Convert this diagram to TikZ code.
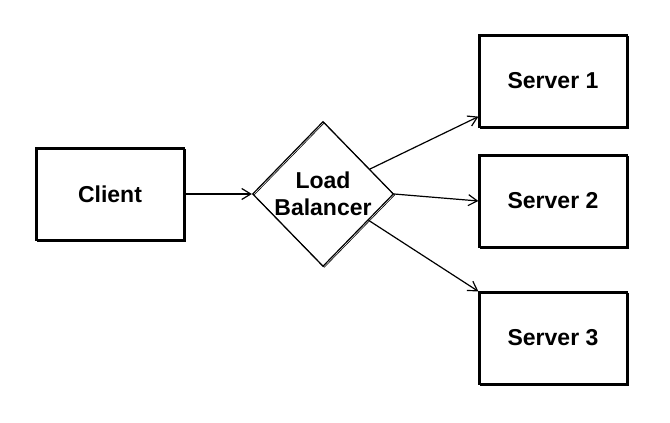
\documentclass[tikz,border=0pt]{standalone}
\usepackage{fontspec}
\setmainfont{Liberation Sans}
\usepackage{tikz}
\usetikzlibrary{arrows.meta,calc,positioning,shapes.geometric}

\begin{document}
\begin{tikzpicture}[x=1pt,y=-1pt,>={Straight Barb[length=9pt,width=11pt]},
  sketch/.style={draw,line width=1.2pt,
    postaction={draw,line width=0.6pt,transform canvas={shift={(1.3pt,-1pt)}}}},
  box/.style={sketch,rectangle,minimum width=148pt,minimum height=92pt,inner sep=0pt},
  lbshape/.style={sketch,diamond,inner sep=0pt,minimum width=140pt,minimum height=145pt,align=center},
  link/.style={->,line width=1.2pt},
  font=\fontsize{23}{27}\selectfont\bfseries]
\useasboundingbox (0,0) rectangle (670,423);
% client and balancer
\node[box] (client) at (110,194) {Client};
\node[lbshape] (lb) at (323,194) {Load\\Balancer};
% servers
\foreach \n/\y in {1/81,2/201,3/338}{
  \node[box] (s\n) at (553,\y) {Server \n};
}
\draw[link] (client.east) -- (lb.west);
\draw[link] (lb.28) -- ([yshift=11pt]s1.south west);
\draw[link] (lb.east) -- (s2.west);
\draw[link] (lb.-30) -- (s3.north west);
\end{tikzpicture}
\end{document}
